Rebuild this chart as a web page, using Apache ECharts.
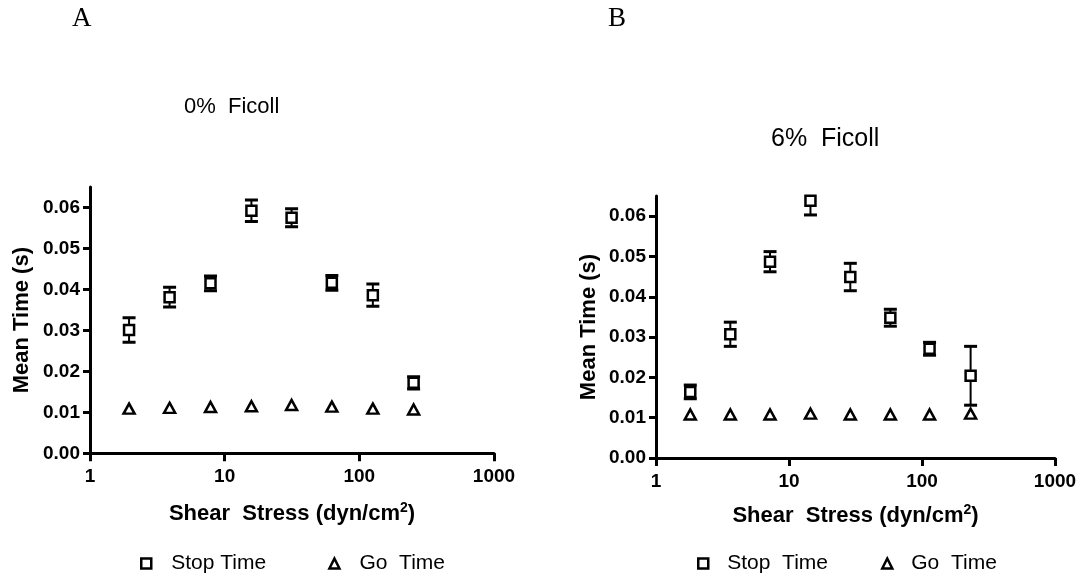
<!DOCTYPE html>
<html>
<head>
<meta charset="utf-8">
<script src="https://cdn.jsdelivr.net/npm/echarts@6/dist/echarts.min.js"></script>
<style>
  html, body { margin: 0; padding: 0; background: #fff; }
  #chart { width: 1080px; height: 575px; }
</style>
</head>
<body>
<div id="chart"></div>
<script>
// Panel A: 0% Ficoll
const shearA   = [1.95, 3.9, 7.85, 15.8, 31.4, 62.5, 126, 253];
const stopA    = [0.0301, 0.0381, 0.0415, 0.0592, 0.0575, 0.0416, 0.0386, 0.0172];
const stopErrA = [0.0030, 0.0024, 0.0018, 0.0026, 0.0022, 0.0018, 0.0027, 0.0015];
const goA      = [0.0109, 0.0111, 0.0113, 0.0115, 0.0118, 0.0114, 0.0109, 0.0107];

// Panel B: 6% Ficoll
const shearB   = [1.81, 3.62, 7.2, 14.5, 28.9, 57.8, 114, 232];
const stopB    = [0.0164, 0.0307, 0.0487, 0.0638, 0.0449, 0.0348, 0.0271, 0.0204];
const stopErrB = [0.0017, 0.0030, 0.0025, 0.0035, 0.0034, 0.0021, 0.0016, 0.0073];
const goB      = [0.0108, 0.0108, 0.0108, 0.0110, 0.0108, 0.0108, 0.0108, 0.0110];

// Axis ticks
const yTicks = [0, 0.01, 0.02, 0.03, 0.04, 0.05, 0.06];
const yMax = 0.065;
const xMin = 1, xMax = 1000;

// Legend labels per series
const legendLabels = {
  stopA: 'Stop Time', goA: 'Go  Time',
  stopB: 'Stop  Time', goB: 'Go  Time'
};

const SANS = "'Liberation Sans', Arial, Helvetica, sans-serif";
const SERIF = "'Liberation Serif', 'Times New Roman', serif";

const pairs = (xs, ys) => xs.map((x, i) => [x, ys[i]]);
const triples = (xs, ys, es) => xs.map((x, i) => [x, ys[i], es[i]]);

function errorBarItem(params, api) {
  const x = api.value(0), y = api.value(1), e = api.value(2);
  const top = api.coord([x, y + e]);
  const bot = api.coord([x, y - e]);
  const half = 6.5;
  return {
    type: 'group',
    children: [
      { type: 'line', shape: { x1: top[0], y1: top[1], x2: bot[0], y2: bot[1] },
        style: { stroke: '#000', lineWidth: 2 } },
      { type: 'line', shape: { x1: top[0] - half, y1: top[1], x2: top[0] + half, y2: top[1] },
        style: { stroke: '#000', lineWidth: 3 } },
      { type: 'line', shape: { x1: bot[0] - half, y1: bot[1], x2: bot[0] + half, y2: bot[1] },
        style: { stroke: '#000', lineWidth: 3 } }
    ]
  };
}

function xAxisFor(gridIndex, gap) {
  return {
    type: 'log', logBase: 10, gridIndex, min: xMin, max: xMax,
    name: '{a|Shear  Stress (dyn/cm}{s|2}{a|)}', nameLocation: 'middle', nameGap: gap,
    nameTextStyle: {
      fontFamily: SANS, fontSize: 22, fontWeight: 'bold', color: '#000',
      rich: {
        a: { fontFamily: SANS, fontSize: 22, fontWeight: 'bold', color: '#000', lineHeight: 26 },
        s: { fontFamily: SANS, fontSize: 14, fontWeight: 'bold', color: '#000',
             lineHeight: 26, verticalAlign: 'top' }
      }
    },
    axisLine: { show: true, lineStyle: { color: '#000', width: 3 } },
    axisTick: { show: true, inside: false, length: 8, lineStyle: { color: '#000', width: 3 } },
    minorTick: { show: false },
    splitLine: { show: false },
    minorSplitLine: { show: false },
    axisLabel: { margin: 14, fontFamily: SANS, fontSize: 19, fontWeight: 'bold', color: '#000',
                 formatter: v => String(v) }
  };
}

function yAxisFor(gridIndex, gap) {
  return {
    type: 'value', gridIndex, min: 0, max: yMax,
    name: 'Mean Time (s)', nameLocation: 'middle', nameGap: gap, nameRotate: 90,
    nameTextStyle: { fontFamily: SANS, fontSize: 22, fontWeight: 'bold', color: '#000' },
    axisLine: { show: true, lineStyle: { color: '#000', width: 3 } },
    axisTick: { show: true, inside: false, length: 7, customValues: yTicks,
                lineStyle: { color: '#000', width: 3 } },
    splitLine: { show: false },
    axisLabel: { margin: 10, customValues: yTicks, fontFamily: SANS, fontSize: 19,
                 fontWeight: 'bold', color: '#000', formatter: v => v.toFixed(2) }
  };
}

function legendFor(left, pad, gap, names) {
  return {
    left, top: 548, orient: 'horizontal', itemGap: gap,
    itemWidth: 10, itemHeight: 10, selectedMode: false,
    data: names,
    formatter: n => legendLabels[n],
    itemStyle: { color: '#fff', borderColor: '#000', borderWidth: 2.5, opacity: 1 },
    textStyle: { fontFamily: SANS, fontSize: 21, color: '#000', padding: [0, 0, 0, pad] }
  };
}

const markStyle = { color: '#fff', borderColor: '#000', borderWidth: 2.5, opacity: 1 };

const option = {
  backgroundColor: '#fff',
  animation: false,
  title: [
    { text: 'A', left: 72, top: 5, padding: 0,
      textStyle: { fontFamily: SERIF, fontSize: 27, fontWeight: 'normal', color: '#000' } },
    { text: 'B', left: 608, top: 5, padding: 0,
      textStyle: { fontFamily: SERIF, fontSize: 27, fontWeight: 'normal', color: '#000' } },
    { text: '0%  Ficoll', left: 184, top: 96, padding: 0,
      textStyle: { fontFamily: SANS, fontSize: 22, fontWeight: 'normal', color: '#000' } },
    { text: '6%  Ficoll', left: 771, top: 127, padding: 0,
      textStyle: { fontFamily: SANS, fontSize: 25, fontWeight: 'normal', color: '#000' } }
  ],
  grid: [
    { left: 90, top: 187, width: 404, height: 266.3, containLabel: false, outerBoundsMode: 'none' },
    { left: 656, top: 196, width: 399, height: 262, containLabel: false, outerBoundsMode: 'none' }
  ],
  xAxis: [xAxisFor(0, 48), xAxisFor(1, 45)],
  yAxis: [yAxisFor(0, 57), yAxisFor(1, 56)],
  legend: [
    legendFor(135, 15, 62, ['stopA', 'goA']),
    legendFor(692, 14, 53, ['stopB', 'goB'])
  ],
  series: [
    { type: 'custom', name: 'errA', xAxisIndex: 0, yAxisIndex: 0, clip: true, z: 1,
      renderItem: errorBarItem, encode: { x: 0, y: 1 },
      data: triples(shearA, stopA, stopErrA) },
    { type: 'scatter', name: 'stopA', xAxisIndex: 0, yAxisIndex: 0, z: 3,
      symbol: 'rect', symbolSize: 10, itemStyle: markStyle,
      data: pairs(shearA, stopA) },
    { type: 'scatter', name: 'goA', xAxisIndex: 0, yAxisIndex: 0, z: 3,
      symbol: 'triangle', symbolSize: [11, 10], itemStyle: markStyle,
      data: pairs(shearA, goA) },
    { type: 'custom', name: 'errB', xAxisIndex: 1, yAxisIndex: 1, clip: true, z: 1,
      renderItem: errorBarItem, encode: { x: 0, y: 1 },
      data: triples(shearB, stopB, stopErrB) },
    { type: 'scatter', name: 'stopB', xAxisIndex: 1, yAxisIndex: 1, z: 3,
      symbol: 'rect', symbolSize: 10, itemStyle: markStyle,
      data: pairs(shearB, stopB) },
    { type: 'scatter', name: 'goB', xAxisIndex: 1, yAxisIndex: 1, z: 3,
      symbol: 'triangle', symbolSize: [11, 10], itemStyle: markStyle,
      data: pairs(shearB, goB) }
  ]
};

const chart = echarts.init(document.getElementById('chart'), null, { renderer: 'canvas' });
chart.setOption(option);
</script>
</body>
</html>
